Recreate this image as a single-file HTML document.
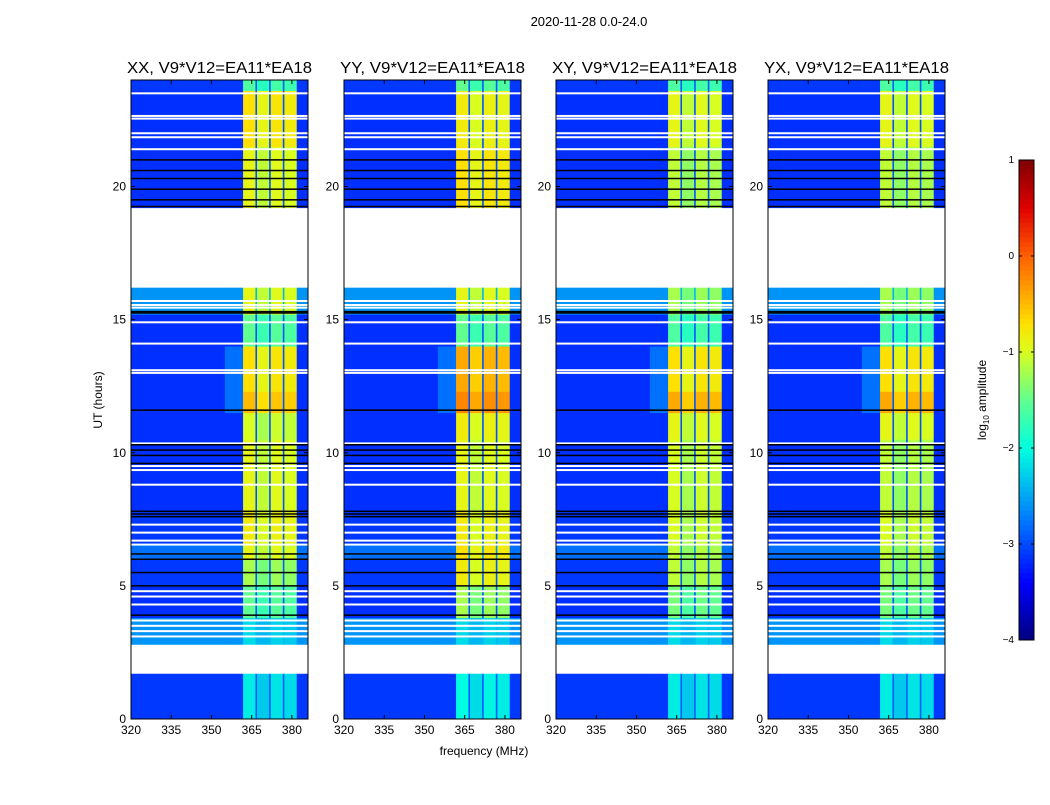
<!DOCTYPE html>
<html><head><meta charset="utf-8"><style>
body{margin:0;background:#fff;}
svg text{font-family:"Liberation Sans",sans-serif;fill:#000;}
</style></head><body>
<svg id="fig" width="1050" height="800" viewBox="0 0 1050 800" xmlns="http://www.w3.org/2000/svg">
<rect width="1050" height="800" fill="#fff"/>
<text x="589" y="26" font-size="13" text-anchor="middle">2020-11-28 0.0-24.0</text>
<text x="484" y="755" font-size="12" text-anchor="middle">frequency (MHz)</text>
<text transform="translate(102,400) rotate(-90)" font-size="12" text-anchor="middle">UT (hours)</text>
<text transform="translate(986,400) rotate(-90)" font-size="12" text-anchor="middle">log<tspan font-size="8" dy="3">10</tspan><tspan dy="-3"> amplitude</tspan></text>
<g id="panels"></g>
<g id="cbar"></g>
</svg>
<script>
const panelTitles=["XX, V9*V12=EA11*EA18","YY, V9*V12=EA11*EA18","XY, V9*V12=EA11*EA18","YX, V9*V12=EA11*EA18"];
const segStart=[0,1.7,2.8,3.8,5.0,6.0,6.6,7.8,10.5,11.5,12.3,14.0,15.2,16.2,19.2,21.5,23.6];
const segEnd=[1.7,2.8,3.8,5.0,6.0,6.6,7.8,10.5,11.5,12.3,14.0,15.2,16.2,19.2,21.5,23.6,24];
const bgLevel=[-3.1,null,-2.6,-3.15,-3.1,-2.8,-3.1,-3.15,-3.15,-3.15,-3.15,-3.15,-2.6,null,-3.15,-3.15,-3.1];
const bandXX=[-2.2,null,-2.3,-1.6,-1.3,-1.0,-0.9,-1.0,-1.1,-0.6,-0.8,-1.6,-1.0,null,-1.0,-0.8,-1.7];
const bandYY=[-2.1,null,-2.3,-1.3,-0.9,-0.8,-0.9,-1.0,-0.9,-0.3,-0.5,-1.6,-1.0,null,-0.8,-0.9,-1.6];
const bandXY=[-2.2,null,-2.3,-1.5,-1.2,-1.2,-1.1,-1.1,-1.0,-0.5,-0.8,-1.7,-1.3,null,-1.2,-1.0,-1.7];
const bandYX=[-2.2,null,-2.3,-1.5,-1.3,-1.2,-1.1,-1.2,-1.0,-0.5,-0.8,-1.7,-1.3,null,-1.2,-1.0,-1.7];
const freqEdges=[320,355,361.8,366.4,367.0,371.5,372.1,376.6,377.2,381.8,386];
const colType=["bg","trans","band","gap","band","gap","band","gap","band","bg"];
const bandOffset=[0,0,0.1,0,-0.1,0,0.05,0,0,0];
const whiteLines=[23.5,22.55,22.65,22.0,21.85,21.4,15.45,15.55,15.7,14.9,14.1,13.1,13.0,10.35,9.35,9.5,8.8,7.3,7.0,6.7,6.55,4.8,4.6,4.3,3.7,3.5,3.3,3.1];
const blackLines=[21.0,20.6,20.3,19.9,19.5,19.25,15.25,15.3,11.6,10.3,10.1,9.9,9.6,7.8,7.7,7.6,6.2,6.0,5.5,5.0,3.9];
const xTicks=[320,335,350,365,380];
const yTicks=[0,5,10,15,20];
const cbTicks=[-4,-3,-2,-1,0,1];
const panelLeft=[131,344,556,768];
const bands=[bandXX,bandYY,bandXY,bandYX];
const W=177,T=80,B=719;
const NS="http://www.w3.org/2000/svg";
const stops=[[-4,[0,0,127]],[-3.4,[0,0,255]],[-2.8,[0,112,255]],[-2,[0,255,224]],[-1.5,[96,255,144]],[-1,[216,255,32]],[-0.7,[255,224,0]],[0,[255,96,0]],[0.5,[224,0,0]],[1,[128,0,0]]];
function cmap(v){v=Math.max(-4,Math.min(1,v));for(let i=1;i<stops.length;i++){if(v<=stops[i][0]){const a=stops[i-1],b=stops[i];const t=(v-a[0])/(b[0]-a[0]);const c=a[1].map((x,k)=>Math.round(x+(b[1][k]-x)*t));return `rgb(${c})`;}}return "rgb(128,0,0)";}
function el(tag,attrs,parent){const e=document.createElementNS(NS,tag);for(const k in attrs)e.setAttribute(k,attrs[k]);parent.appendChild(e);return e;}
const yS=h=>B-(h/24)*(B-T);
const root=document.getElementById('panels');
panelLeft.forEach((L,p)=>{
  const xS=f=>L+(f-320)/66*W;
  const g=el('g',{},root);
  
  
  for(let s=0;s<segStart.length;s++){
    const bg=bgLevel[s],bd=bands[p][s];
    if(bg===null)continue;
    for(let c=0;c<colType.length;c++){
      let v=bg;
      if(colType[c]=="band")v=bd+bandOffset[c];
      else if(colType[c]=="gap")v=bg+0.2;
      else if(colType[c]=="trans")v=(bd>-0.9&&segStart[s]>=11.5&&segEnd[s]<=14)?bg+0.35:bg;
      const r=el('rect',{x:xS(freqEdges[c]),y:yS(segEnd[s]),width:xS(freqEdges[c+1])-xS(freqEdges[c])+0.3,height:yS(segStart[s])-yS(segEnd[s])+0.3,fill:cmap(v)},g);
      
      
    }
  }
  whiteLines.forEach(h=>{const r=el('rect',{x:L,y:yS(h)-1,width:W,height:2,fill:'#fff'},g);
    
    });
  blackLines.forEach(h=>{const r=el('rect',{x:L,y:yS(h)-0.75,width:W,height:1.5,fill:'#000'},g);
    
    });
  const fr=el('rect',{x:L,y:T,width:W,height:B-T,fill:'none',stroke:'#000','stroke-width':1},g);
  
  
  const t=el('text',{x:L+W/2,y:73,'font-size':15.5,'text-anchor':'middle',textLength:185,lengthAdjust:'spacingAndGlyphs'},g);t.textContent=panelTitles[p];
  
  
  xTicks.forEach(f=>{el('line',{x1:xS(f),x2:xS(f),y1:B,y2:B-4,stroke:'#000'},g);el('line',{x1:xS(f),x2:xS(f),y1:T,y2:T+4,stroke:'#000'},g);
    const tx=el('text',{x:xS(f),y:B+15,'font-size':12,'text-anchor':'middle'},g);tx.textContent=f;
    
    });
  yTicks.forEach(h=>{el('line',{x1:L,x2:L+4,y1:yS(h),y2:yS(h),stroke:'#000'},g);el('line',{x1:L+W,x2:L+W-4,y1:yS(h),y2:yS(h),stroke:'#000'},g);
    const ty=el('text',{x:L-5,y:yS(h)+4,'font-size':12,'text-anchor':'end'},g);ty.textContent=h;
    
    });
});
const cb=document.getElementById('cbar');
const cT=160,cB=640,cL=1019,cW=15;
const cy=v=>cB-(v+4)/5*(cB-cT);
for(let i=0;i<100;i++){const v0=-4+i*0.05;el('rect',{x:cL,y:cy(v0+0.05),width:cW,height:(cB-cT)/100+0.5,fill:cmap(v0+0.025)},cb);}
el('rect',{x:cL,y:cT,width:cW,height:cB-cT,fill:'none',stroke:'#000'},cb);
cbTicks.forEach(v=>{el('line',{x1:cL,x2:cL+3,y1:cy(v),y2:cy(v),stroke:'#000'},cb);el('line',{x1:cL+cW,x2:cL+cW-3,y1:cy(v),y2:cy(v),stroke:'#000'},cb);
  const t=el('text',{x:cL-5,y:cy(v)+3,'font-size':10,'text-anchor':'end'},cb);t.textContent=v<0?'\u2212'+(-v):v;
  
  });
</script>
</body></html>
